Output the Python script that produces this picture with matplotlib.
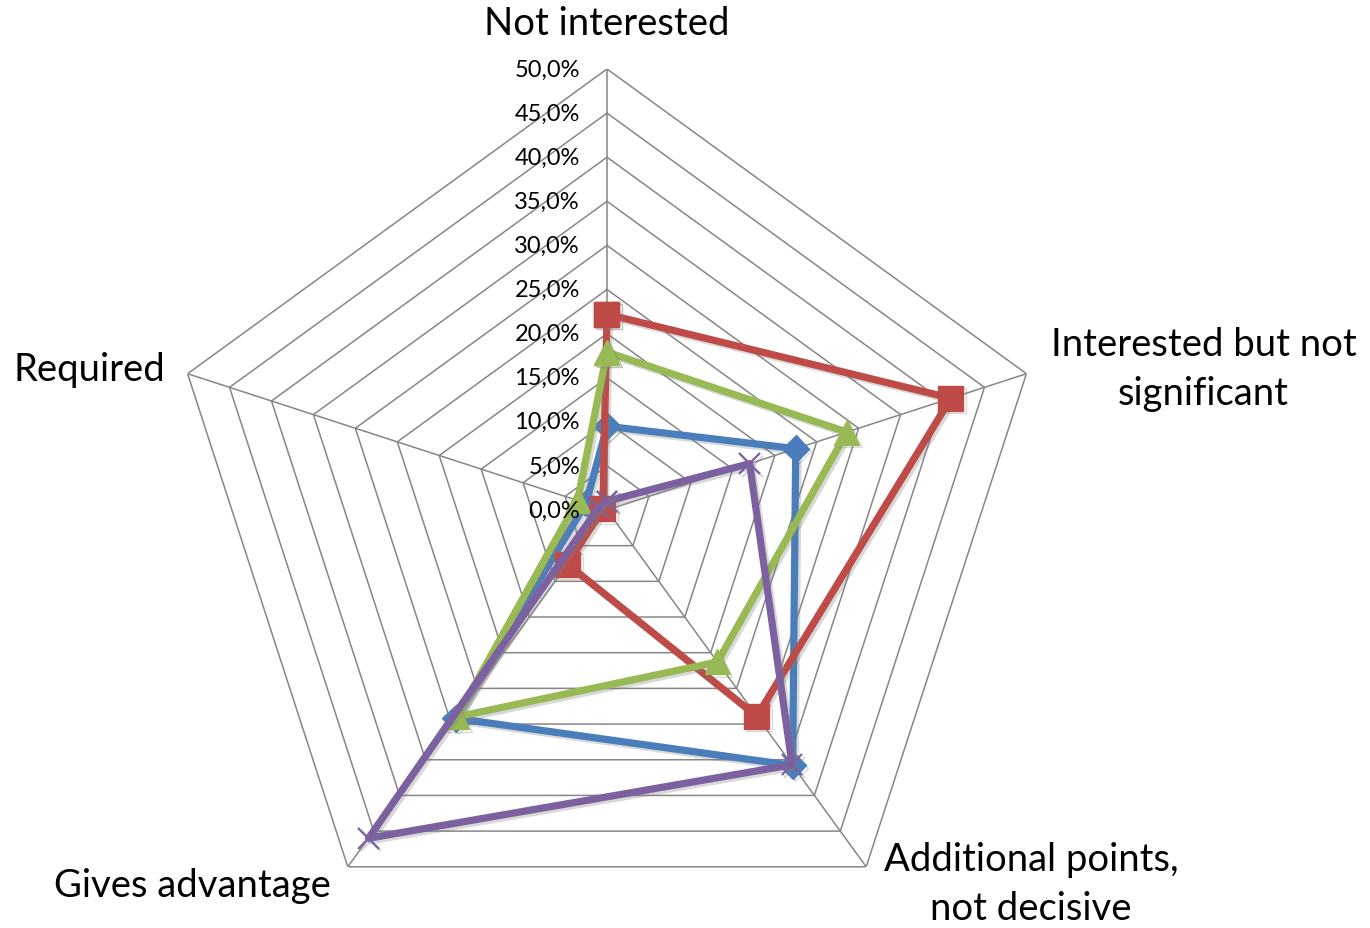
import numpy as np
import matplotlib
matplotlib.use("Agg")
import matplotlib.pyplot as plt
from matplotlib import transforms
import matplotlib.patheffects as pe

# Survey answers, share of respondents (%)
categories = ["Not interested", "Interested but not\nsignificant",
              "Additional points,\nnot decisive", "Gives advantage", "Required"]
series_blue = [9.5, 22.5, 35.8, 29.2, 2.5]
series_red = [22.2, 41.0, 28.9, 7.6, 0.5]
series_green = [17.9, 28.6, 21.3, 29.0, 3.5]
series_purple = [1.0, 17.0, 35.7, 46.0, 1.0]
tick_values = [0, 5, 10, 15, 20, 25, 30, 35, 40, 45, 50]
tick_labels = ["0,0%", "5,0%", "10,0%", "15,0%", "20,0%", "25,0%",
               "30,0%", "35,0%", "40,0%", "45,0%", "50,0%"]

plt.rcParams['font.family'] = ['Lato', 'DejaVu Sans']

W, H, DPI = 1370, 929, 100
fig = plt.figure(figsize=(W / DPI, H / DPI), dpi=DPI)

cx, cy, rad = 607, 511, 441
ax = fig.add_axes([(cx - rad) / W, 1 - (cy + rad) / H, 2 * rad / W, 2 * rad / H],
                  projection='polar')
ax.set_theta_zero_location('N')
ax.set_theta_direction(-1)
ax.set_ylim(0, 50)
ax.axis('off')

n = len(categories)
theta = np.arange(n) * 2 * np.pi / n
theta_closed = np.append(theta, theta[0])

grid_color = '#868686'
for v in tick_values[1:]:
    ax.plot(theta_closed, [v] * (n + 1), color=grid_color, lw=1.1, zorder=1)
for t in theta:
    ax.plot([t, t], [0, tick_values[-1]], color=grid_color, lw=1.1, zorder=1)

# radial value labels along the top spoke
offset = transforms.offset_copy(ax.transData, fig=fig, x=-27, y=0, units='dots')
for v, lab in zip(tick_values, tick_labels):
    ax.text(0, v, lab, transform=offset, ha='right', va='center',
            fontsize=17, color='black', zorder=5)

# category labels around the outer ring
label_offsets = [(0, 46), (177, 5), (165, -17), (-155, -18), (-98, 5)]
for t, lab, (dx, dy) in zip(theta, categories, label_offsets):
    ax.annotate(lab, xy=(t, tick_values[-1]), xycoords='data',
                xytext=(dx * 0.72, dy * 0.72), textcoords='offset points',
                ha='center', va='center', fontsize=27.5, linespacing=1.45,
                annotation_clip=False)

shadow = [pe.SimpleLineShadow(offset=(1.8, -1.8), shadow_color='#7f7f7f',
                              alpha=0.3), pe.Normal()]
styles = [
    (series_blue, '#4A7EBB', 'D', 13.5, 1.0),
    (series_red, '#BE4B48', 's', 18, 1.0),
    (series_green, '#98B954', '^', 18, 1.0),
    (series_purple, '#7D60A0', 'x', 15, 1.6),
]
for vals, col, mk, ms, mew in styles:
    vals_closed = np.append(vals, vals[0])
    ax.plot(theta_closed, vals_closed, color=col, lw=5.2, marker=mk, ms=ms,
            mew=mew, mec=col, mfc=col, clip_on=False, zorder=3,
            solid_joinstyle='round', path_effects=shadow)

fig.savefig('out.png', dpi=DPI)
